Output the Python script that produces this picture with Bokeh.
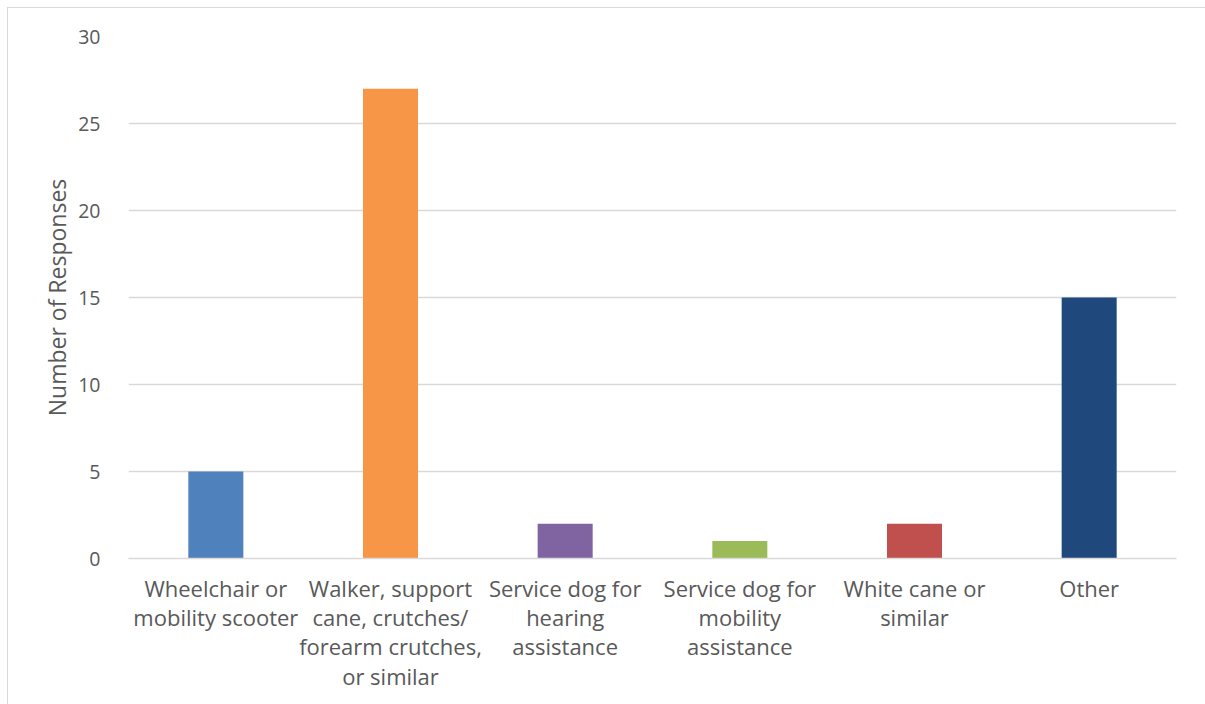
from bokeh.plotting import figure
from bokeh.models import FactorRange, ColumnDataSource
from bokeh.embed import file_html
from bokeh.resources import INLINE

categories = [
    "Wheelchair or\nmobility scooter",
    "Walker, support\ncane, crutches/\nforearm crutches,\nor similar",
    "Service dog for\nhearing\nassistance",
    "Service dog for\nmobility\nassistance",
    "White cane or\nsimilar",
    "Other",
]
counts = [5, 27, 2, 1, 2, 15]
colors = ["#4F81BD", "#F79646", "#8064A2", "#9BBB59", "#C0504D", "#1F497D"]
y_ticks = [0, 5, 10, 15, 20, 25, 30]

FONT = "Open Sans"
TXT = "#595959"
GRID = "#d9d9d9"

src = ColumnDataSource(dict(cat=categories, val=counts, color=colors))

p = figure(
    x_range=FactorRange(*categories, range_padding=0),
    y_range=(0, 30),
    width=1197, height=697,
    output_backend="svg", toolbar_location=None,
    min_border_left=120, min_border_right=29,
    min_border_top=28, min_border_bottom=147,
)
p.frame_width = 1048
p.frame_height = 522
p.styles = {"margin-left": "7px", "margin-top": "7px", "border": f"1px solid {GRID}"}

p.vbar(x="cat", top="val", width=0.315, color="color", source=src, line_color=None)

p.outline_line_color = None
p.xgrid.grid_line_color = None
p.ygrid.grid_line_color = GRID
p.ygrid.grid_line_width = 1.3

p.yaxis.ticker = y_ticks
p.yaxis.axis_line_color = None
p.yaxis.major_tick_line_color = None
p.yaxis.minor_tick_line_color = None
p.yaxis.major_label_standoff = 22
p.yaxis.major_label_text_font = FONT
p.yaxis.major_label_text_font_size = "19.5px"
p.yaxis.major_label_text_color = TXT
p.yaxis.axis_label = "Number of Responses"
p.yaxis.axis_label_text_font = FONT
p.yaxis.axis_label_text_font_size = "23px"
p.yaxis.axis_label_text_font_style = "normal"
p.yaxis.axis_label_text_color = TXT
p.yaxis.axis_label_standoff = 2

p.xaxis.axis_line_color = GRID
p.xaxis.axis_line_width = 1.3
p.xaxis.major_tick_line_color = None
p.xaxis.minor_tick_line_color = None
p.xaxis.major_label_standoff = 8
p.xaxis.major_label_text_font = FONT
p.xaxis.major_label_text_font_size = "22px"
p.xaxis.major_label_text_color = TXT
p.xaxis.major_label_text_line_height = 0.98

open("out.html", "w").write(file_html(p, INLINE))
